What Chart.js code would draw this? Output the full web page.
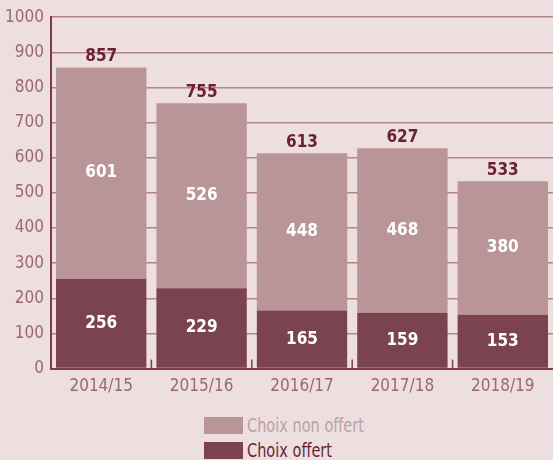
<!DOCTYPE html>
<html><head><meta charset="utf-8">
<script src="https://cdn.jsdelivr.net/npm/chart.js@4"></script>
<style>
html,body{margin:0;padding:0;background:#eddfe0;}
#wrap{position:relative;width:553px;height:460px;overflow:hidden;}
canvas{position:absolute;left:0;top:0;}
#legend{position:absolute;left:204px;top:413px;font-family:"DejaVu Sans Condensed","DejaVu Sans",sans-serif;font-size:19px;line-height:25px;}
.li{display:flex;align-items:center;height:25px;}
.box{width:39px;height:17px;margin-right:4px;flex:none;}
.li span{display:inline-block;transform:scaleX(0.85);transform-origin:left center;white-space:nowrap;}
</style></head>
<body><div id="wrap"><canvas id="c" width="553" height="405"></canvas><div id="legend"></div></div>
<script>
const categories = ["2014/15","2015/16","2016/17","2017/18","2018/19"];
const offert = [256,229,165,159,153];
const nonOffert = [601,526,448,468,380];
const totals = [857,755,613,627,533];
const yTicks = [0,100,200,300,400,500,600,700,800,900,1000];
const seriesNames = ["Choix offert","Choix non offert"];

const FONT = '"DejaVu Sans Condensed"';
const darkC = '#7b434f', lightC = '#b99598';

const labelsPlugin = {
  id:'labels',
  afterDatasetsDraw(chart){
    const ctx = chart.ctx;
    ctx.save();
    ctx.textAlign='center'; ctx.textBaseline='middle';
    ctx.font = 'bold 17px '+FONT;
    chart.data.datasets.forEach((ds,di)=>{
      chart.getDatasetMeta(di).data.forEach((bar,i)=>{
        const top = bar.y, bot = bar.base;
        ctx.fillStyle='#ffffff';
        ctx.fillText(String(ds.data[i]), bar.x, (top+bot)/2);
      });
    });
    const meta = chart.getDatasetMeta(1);
    ctx.fillStyle='#6b1f35';
    meta.data.forEach((bar,i)=>{
      ctx.fillText(String(totals[i]), bar.x, bar.y-11);
    });
    const xs = chart.scales.x, y0 = chart.scales.y.getPixelForValue(0);
    ctx.strokeStyle='#7e3a4a'; ctx.lineWidth=1.5;
    for(let i=1;i<categories.length;i++){
      const x=(xs.getPixelForTick(i-1)+xs.getPixelForTick(i))/2;
      ctx.beginPath(); ctx.moveTo(x,y0); ctx.lineTo(x,y0-9); ctx.stroke();
    }
    ctx.restore();
  }
};

const chart = new Chart(document.getElementById('c'),{
  type:'bar',
  data:{labels:categories,datasets:[
    {label:seriesNames[0],data:offert,backgroundColor:darkC,barPercentage:0.9,categoryPercentage:1},
    {label:seriesNames[1],data:nonOffert,backgroundColor:lightC,barPercentage:0.9,categoryPercentage:1}
  ]},
  options:{
    responsive:false,animation:false,
    layout:{padding:{top:7,right:0,left:0,bottom:8}},
    plugins:{legend:{display:false},tooltip:{enabled:false}},
    scales:{
      x:{stacked:true,grid:{display:false},border:{display:true,color:'#7e3a4a',width:2},
        ticks:{color:'#9c6672',font:{family:FONT,size:17},padding:0}},
      y:{stacked:true,min:0,max:1000,z:1,
        afterBuildTicks(s){s.ticks=yTicks.map(v=>({value:v}));},
        afterFit(s){s.width=51;},
        grid:{color:'rgba(160,100,112,0.75)',lineWidth:1.5,drawTicks:false},
        border:{display:true,color:'#7e3a4a',width:2},
        ticks:{color:'#9c6672',font:{family:FONT,size:17},padding:7,callback:v=>String(v)}}
    }
  },
  plugins:[labelsPlugin]
});

const lg=document.getElementById('legend');
[[1,'#c0a0a4'],[0,'#6b1f35']].forEach(([di,col])=>{
  const d=document.createElement('div');d.className='li';
  const b=document.createElement('div');b.className='box';b.style.background=chart.data.datasets[di].backgroundColor;
  const t=document.createElement('span');t.textContent=chart.data.datasets[di].label;t.style.color=col;
  d.appendChild(b);d.appendChild(t);lg.appendChild(d);
});
</script></body></html>
